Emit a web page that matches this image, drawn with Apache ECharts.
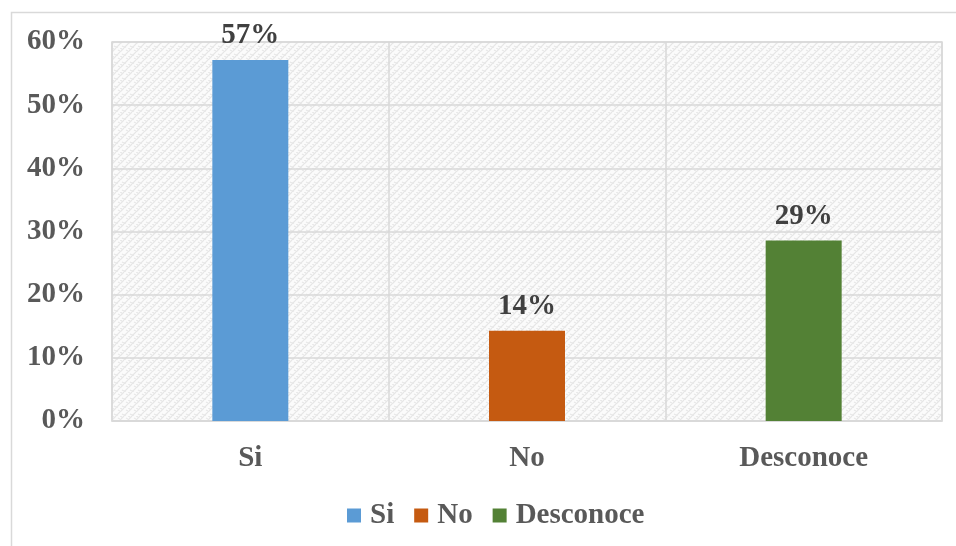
<!DOCTYPE html>
<html><head><meta charset="utf-8">
<script src="https://cdn.jsdelivr.net/npm/echarts@6/dist/echarts.min.js"></script>
<style>html,body{margin:0;padding:0;background:#fff}#c{width:956px;height:546px}</style>
</head><body><div id="c"></div>
<script>
var categories = ['Si', 'No', 'Desconoce'];
var values = [57.14, 14.29, 28.57];
var colors = ['#5B9BD5', '#C55A11', '#538135'];
var yTicks = [0, 10, 20, 30, 40, 50, 60];

var pc = document.createElement('canvas');
pc.width = 8; pc.height = 8;
var g = pc.getContext('2d');
g.fillStyle = '#fbfbfb'; g.fillRect(0, 0, 8, 8);
g.strokeStyle = '#e6e6e6'; g.lineWidth = 1.1;
g.beginPath();
g.moveTo(0, 4); g.lineTo(4, 0);
g.moveTo(4, 8); g.lineTo(8, 4);
g.moveTo(2, 6); g.lineTo(6, 8);
g.moveTo(6, 2); g.lineTo(8, 3);
g.moveTo(0, 0); g.lineTo(2, 1);
g.stroke();

var font = '"Liberation Serif", "Times New Roman", serif';
var chart = echarts.init(document.getElementById('c'));
var series = categories.map(function (name, i) {
  var d = categories.map(function (_, j) { return j === i ? values[i] : '-'; });
  return {
    name: name, type: 'bar', data: d, barWidth: 76, barGap: '-100%',
    itemStyle: { color: colors[i] },
    label: { show: true, position: 'top', distance: 10, formatter: function (p) { return Math.round(p.value) + '%'; },
      fontFamily: font, fontWeight: 'bold', fontSize: 29, color: '#404040' }
  };
});
chart.setOption({
  animation: false,
  graphic: [{ type: 'rect', shape: { x: 11.5, y: 12.5, width: 960, height: 560 }, style: { fill: 'none', stroke: '#d9d9d9', lineWidth: 1.5 } }],
  grid: { left: 112, right: 14, top: 42, bottom: 125, show: true, backgroundColor: { image: pc, repeat: 'repeat' }, borderColor: '#d9d9d9', borderWidth: 1.5 },
  legend: { top: 496, left: 342, itemWidth: 14, itemHeight: 14, itemGap: 20, icon: 'rect',
    textStyle: { fontFamily: font, fontWeight: 'bold', fontSize: 29, color: '#595959', padding: [0, 0, 0, 4] } },
  xAxis: { type: 'category', data: categories,
    axisLine: { lineStyle: { color: '#d9d9d9', width: 1.5 } }, axisTick: { show: false },
    splitLine: { show: true, lineStyle: { color: '#d9d9d9', width: 1.5 } },
    axisLabel: { margin: 23, fontFamily: font, fontWeight: 'bold', fontSize: 29, color: '#595959' } },
  yAxis: { type: 'value', min: 0, max: 60, interval: 10,
    axisLine: { show: false }, axisTick: { show: false },
    splitLine: { lineStyle: { color: '#d9d9d9', width: 1.5 } },
    axisLabel: { margin: 27, fontFamily: font, fontWeight: 'bold', fontSize: 29, color: '#595959', formatter: '{value}%' } },
  series: series
});
</script></body></html>
